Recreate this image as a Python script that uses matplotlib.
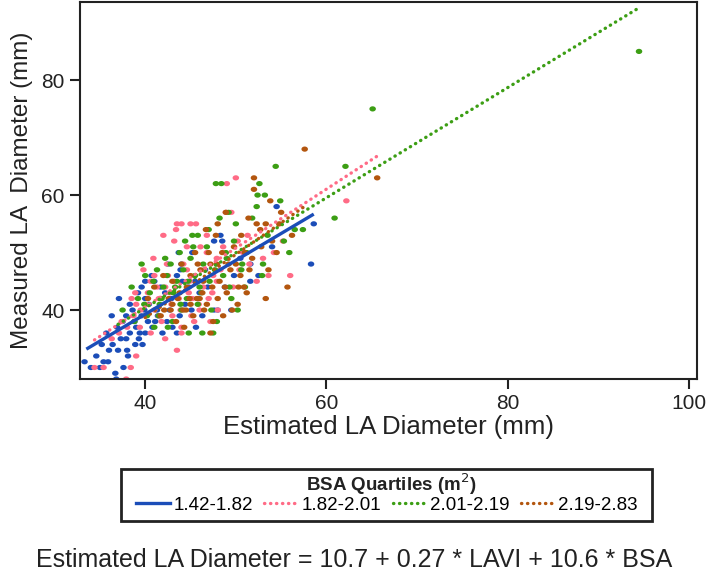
import matplotlib
matplotlib.use("Agg")
import matplotlib.pyplot as plt
from matplotlib.lines import Line2D
from matplotlib.patches import Rectangle
from matplotlib.path import Path
import numpy as np

plt.rcParams['font.family'] = ['Liberation Sans', 'DejaVu Sans']

# ---- data ----
groups = ["1.42-1.82", "1.82-2.01", "2.01-2.19", "2.19-2.83"]
colors = ["#1B4DB8", "#FF6B86", "#3C9E14", "#B3560F"]

blue_x = [33.3, 34.0, 35.0, 35.4, 35.9, 36.7, 36.8, 39.2, 38.1, 35.2, 36.4, 37.3, 37.9, 38.9, 39.3, 38.3,
          39.4, 39.0, 40.0, 37.1, 36.3, 38.3, 37.5, 38.8, 39.6, 40.3, 40.8, 41.9, 42.4, 43.5, 43.0, 40.0,
          40.4, 39.6, 40.0, 41.0, 41.7, 42.2, 41.3, 42.7, 43.8, 44.4, 45.1, 45.6, 46.3, 47.6, 48.0, 49.5,
          43.5, 43.9, 44.8, 45.5, 46.0, 46.6, 43.7, 45.2, 44.0, 47.6, 48.3, 48.5, 50.5, 51.6, 51.6, 52.5,
          54.5, 58.3, 58.6, 54.0, 48.8, 49.8, 38.0, 37.6, 34.6, 37.0,
          36.0, 36.9, 38.6, 39.9, 41.4, 42.9, 41.1, 39.2, 40.7, 44.1, 45.8, 42.5, 46.9, 39.7, 37.9, 35.7]
blue_y = [31, 30, 30, 31, 31, 29, 28, 27, 32, 34, 34, 35, 35, 34, 35, 36,
          36, 37, 36, 42, 39, 41, 38, 38, 39, 38, 37, 36, 38, 36, 37, 42,
          41, 44, 45, 45, 44, 43, 40, 40, 39, 41, 40, 37, 39, 40, 40, 40,
          46, 47, 44, 45, 43, 47, 50, 50, 48, 52, 53, 52, 49, 48, 45, 46,
          58, 48, 55, 51, 44, 46, 33, 30, 32, 33,
          33, 37, 40, 40, 39, 42, 38, 43, 46, 45, 42, 48, 44, 34, 39, 36]

pink_x = [34.4, 35.4, 37.9, 38.4, 37.1, 38.0, 38.7, 39.5, 39.0, 38.5, 40.1, 40.3, 40.6, 41.0, 41.5, 41.8,
          42.2, 42.5, 42.9, 43.2, 43.0, 43.7, 44.2, 44.6, 44.8, 45.0, 45.6, 46.1, 46.8, 46.4, 47.0, 47.5,
          47.9, 48.3, 48.9, 49.5, 49.0, 50.0, 50.2, 50.8, 51.5, 52.3, 53.0, 53.6, 54.2, 55.2, 56.0, 62.2,
          44.0, 42.0, 39.8, 44.6, 45.4, 46.0, 47.2, 48.0, 44.0, 39.0, 36.3, 40.6, 41.5, 42.2, 43.5, 44.0,
          45.1, 49.7, 47.9, 46.8, 51.3, 40.9, 43.2, 43.5, 43.4,
          37.4, 38.9, 40.0, 41.3, 42.7, 43.9, 45.2, 46.5, 44.9, 42.4, 41.0, 39.4, 45.9, 47.4, 48.6, 50.4]
pink_y = [30, 30, 28, 30, 36, 37, 39, 40, 41, 42, 41, 43, 45, 40, 42, 38,
          44, 46, 41, 45, 39, 42, 48, 47, 43, 55, 55, 51, 50, 44, 42, 46,
          49, 47, 57, 57, 62, 63, 52, 50, 48, 45, 49, 46, 50, 52, 46, 59,
          55, 53, 47, 51, 38, 40, 38, 40, 37, 32, 35, 36, 39, 35, 33, 36,
          39, 44, 45, 53, 53, 49, 52, 55, 54,
          38, 43, 39, 44, 43, 40, 42, 47, 45, 48, 46, 37, 41, 43, 51, 47]

green_x = [37.5, 38.5, 39.2, 40.0, 40.5, 40.9, 41.3, 41.6, 42.0, 42.4, 42.8, 43.1, 43.5, 43.8, 44.2, 44.6,
           45.0, 45.2, 45.8, 45.5, 46.0, 46.4, 46.8, 47.0, 47.3, 47.8, 48.4, 47.9, 48.6, 49.0, 49.3, 49.8,
           50.2, 50.6, 51.2, 51.8, 52.3, 52.6, 52.4, 53.2, 52.9, 53.5, 54.4, 54.9, 55.3, 55.9, 56.5, 57.4,
           60.9, 62.1, 65.1, 94.5, 43.0, 44.0, 45.8, 40.2, 41.0, 38.8, 42.5, 46.3, 47.5, 44.8, 50.0, 48.2,
           49.2, 53.0, 51.0, 39.6, 44.4,
           41.8, 43.3, 44.7, 46.2, 47.7, 42.2, 45.3, 48.9, 50.7, 39.9, 41.5, 43.9, 47.1, 49.5]
green_y = [40, 44, 42, 46, 43, 45, 47, 41, 44, 46, 48, 43, 45, 50, 47, 42,
           49, 53, 53, 46, 44, 48, 51, 54, 40, 62, 62, 38, 46, 49, 44, 52,
           40, 47, 50, 56, 58, 62, 60, 60, 46, 53, 65, 59, 52, 50, 54, 54,
           56, 65, 75, 85, 38, 40, 41, 39, 37, 38, 37, 36, 36, 36, 55, 56,
           57, 48, 44, 48, 52,
           42, 44, 45, 43, 47, 49, 51, 50, 48, 41, 39, 41, 45, 42]

brown_x = [40.3, 41.0, 41.7, 42.1, 42.6, 43.0, 43.4, 43.8, 44.2, 44.6, 45.0, 45.3, 45.7, 46.1, 46.4, 46.8,
           47.2, 47.8, 48.2, 48.5, 48.9, 49.0, 49.4, 49.8, 50.2, 50.6, 50.9, 51.2, 51.4, 51.8, 52.0, 52.0,
           52.3, 52.7, 53.3, 53.3, 53.6, 54.0, 54.5, 55.7, 56.2, 57.6, 65.6, 44.0, 45.5, 47.0, 45.0, 46.5,
           47.5, 43.0, 48.0, 49.6, 50.5, 51.5, 42.0, 46.7, 48.0, 52.8, 54.8, 53.8, 55.0, 47.2, 44.3, 48.6,
           43.6, 44.9, 46.0, 47.4, 48.8, 50.0, 51.0, 45.8, 47.9, 49.2, 42.8, 44.5, 46.3, 50.3]
brown_y = [42, 44, 39, 40, 42, 45, 38, 43, 40, 44, 46, 39, 42, 47, 45, 41,
           48, 53, 45, 50, 57, 43, 47, 51, 41, 53, 44, 43, 56, 49, 63, 61,
           55, 54, 55, 42, 47, 52, 50, 44, 53, 68, 63, 48, 50, 50, 41, 40,
           38, 41, 42, 40, 46, 47, 46, 54, 55, 51, 55, 59, 57, 36, 37, 39,
           42, 42, 42, 44, 44, 48, 50, 48, 48, 48, 40, 40, 43, 44]

# regression fits per quartile: intercept, slope, x-range
fit_intercept = [1.84, -0.46, 2.06, -5.32]
fit_slope = [0.936, 1.025, 0.958, 1.10]
fit_xmin = [33.5, 34.4, 37.0, 40.0]
fit_xmax = [58.6, 65.9, 94.4, 57.5]

xs_all = [blue_x, pink_x, green_x, brown_x]
ys_all = [blue_y, pink_y, green_y, brown_y]

# ellipse marker (wider than tall)
t = np.linspace(0, 2 * np.pi, 40)
ell = Path(np.column_stack([1.0 * np.cos(t), 0.8 * np.sin(t)]), closed=True)

# ---- figure ----
fig = plt.figure(figsize=(7.09, 5.74), dpi=100)
ax = fig.add_axes([80/709, 1 - 379/574, (697-80)/709, (379-2)/574])

for xs, ys, c in zip(xs_all, ys_all, colors):
    ax.scatter(xs, ys, s=22, marker=ell, color=c, edgecolors='none', zorder=2)

dot_style = (0, (0.1, 1.7))
handles = []
for i, c in enumerate(colors):
    xx = np.array([fit_xmin[i], fit_xmax[i]])
    yy = fit_intercept[i] + fit_slope[i] * xx
    if i == 0:
        ax.plot(xx, yy, color=c, lw=2.4, solid_capstyle='butt', zorder=4)
        handles.append(Line2D([], [], color=c, lw=2.4))
    else:
        ax.plot(xx, yy, color=c, lw=2.4, linestyle=dot_style, dash_capstyle='round', zorder=3)
        handles.append(Line2D([], [], color=c, lw=2.4, linestyle=dot_style, dash_capstyle='round'))

ax.set_xlim(32.8, 100.9)
ax.set_ylim(28.0, 93.6)
ax.set_xticks([40, 60, 80, 100])
ax.set_yticks([40, 60, 80])
for s in ['top', 'right', 'left', 'bottom']:
    ax.spines[s].set_linewidth(1.5)
    ax.spines[s].set_color('#222222')
ax.tick_params(direction='out', length=7, width=1.5, labelsize=15, colors='#222222', pad=4)
ax.set_xlabel("Estimated LA Diameter (mm)", fontsize=18.5, color='#222222', labelpad=1)
ax.set_ylabel("Measured LA  Diameter (mm)", fontsize=17.5, color='#222222', labelpad=6)

# legend box
fig.patches.append(Rectangle((121/709, 1 - 521/574), (652-121)/709, (521-469)/574,
                             transform=fig.transFigure, fill=False, edgecolor='#222222', lw=2))
fig.text(391/709, 1 - 484/574, "BSA Quartiles (m$^2$)", ha='center', va='center',
         fontsize=13.5, fontweight='bold', color='#222222')
fig.legend(handles, groups, loc='center', bbox_to_anchor=(387/709, 1 - 505/574), ncol=4,
           frameon=False, fontsize=13.5, handlelength=1.8, handletextpad=0.2, columnspacing=0.6,
           borderaxespad=0, borderpad=0)

fig.text(354/709, 1 - 560/574, "Estimated LA Diameter = 10.7 + 0.27 * LAVI + 10.6 * BSA",
         ha='center', va='center', fontsize=18, color='#222222')

fig.savefig("out.png", dpi=100)
